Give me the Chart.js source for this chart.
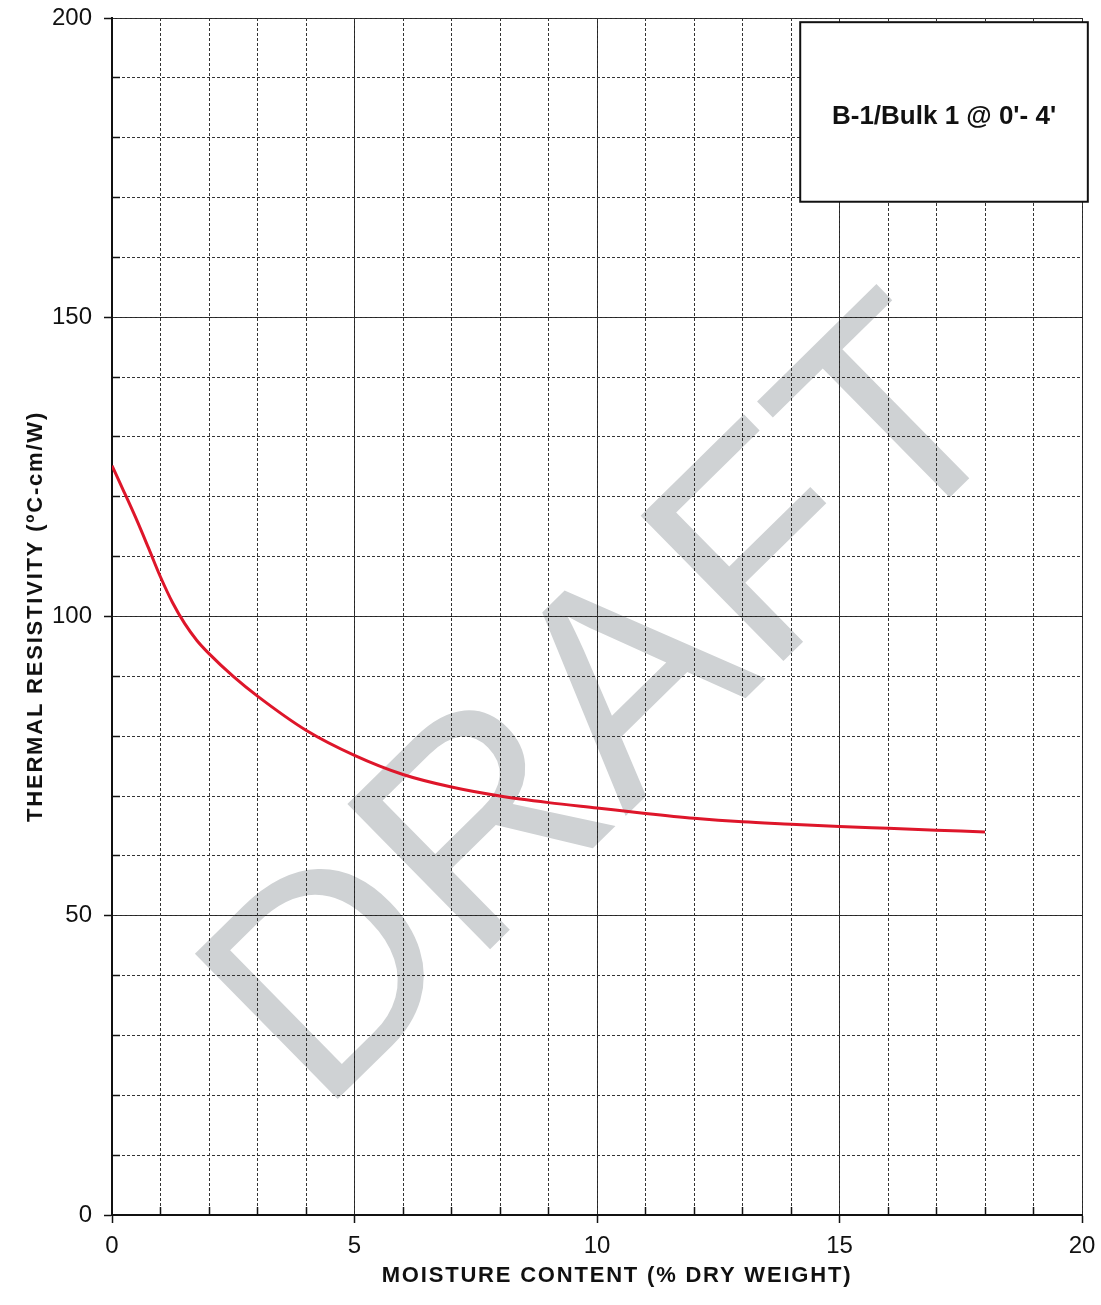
<!DOCTYPE html>
<html>
<head>
<meta charset="utf-8">
<script src="https://cdn.jsdelivr.net/npm/chart.js@4.4.1/dist/chart.umd.min.js"></script>
<style>
  html, body { margin: 0; padding: 0; background: #fff; }
  #wrap { width: 1101px; height: 1305px; }
</style>
</head>
<body>
<div id="wrap"><canvas id="rhoChart" width="1101" height="1305"></canvas></div>
<script>
// values
var moisture = [0, 0.25, 0.5, 0.75, 1, 1.25, 1.5, 1.75, 2, 2.5, 3, 4, 5, 6, 7, 8, 9, 10, 11, 12, 13, 14, 15, 16, 17, 18];
var resistivity = [125.2, 120.8, 116.3, 111.5, 106.6, 102.3, 98.8, 96.0, 93.8, 90.0, 86.7, 81.0, 76.8, 73.6, 71.5, 70.0, 68.9, 68.0, 67.1, 66.3, 65.7, 65.3, 64.9, 64.6, 64.3, 64.0];
var xTicks = [0, 5, 10, 15, 20];
var yTicks = [0, 50, 100, 150, 200];
var xTitle = 'MOISTURE CONTENT (% DRY WEIGHT)';
var yTitle = 'THERMAL RESISTIVITY (ºC-cm/W)';
var sampleLabel = "B-1/Bulk 1 @ 0'- 4'";
var stampText = 'DRAFT';

var FONT = '"Liberation Sans", Arial, sans-serif';

var points = moisture.map(function(m, i) { return {x: m, y: resistivity[i]}; });

// grey DRAFT stamp under the grid
var stamp = {
    id: 'stamp',
    beforeDraw: function(chart) {
        var c = chart.ctx;
        var sx = chart.scales.x, sy = chart.scales.y;
        c.save();
        c.fillStyle = '#fff';
        c.fillRect(0, 0, chart.width, chart.height);
        c.translate(sx.getPixelForValue(11.55), sy.getPixelForValue(74.3));
        c.rotate(-44.5 * Math.PI / 180);
        c.font = '296px ' + FONT;
        c.fillStyle = '#cfd2d4';
        c.textAlign = 'center';
        c.textBaseline = 'alphabetic';
        c.fillText(stampText, 0, 0);
        c.restore();
    }
};

// axis titles (letter-spaced) and the sample id box
var labels = {
    id: 'labels',
    afterDraw: function(chart) {
        var c = chart.ctx;
        var sx = chart.scales.x, sy = chart.scales.y;
        var area = chart.chartArea;
        c.save();
        c.fillStyle = '#111';
        c.textAlign = 'center';
        c.textBaseline = 'middle';
        c.font = 'bold 22px ' + FONT;
        c.letterSpacing = '1.8px';
        c.fillText(xTitle, (area.left + area.right) / 2 + 20, sx.bottom - 29);
        c.save();
        c.translate(sy.left + 36, (area.top + area.bottom) / 2);
        c.rotate(-Math.PI / 2);
        c.fillText(yTitle, 0, 0);
        c.restore();
        c.letterSpacing = '0px';

        var l = sx.getPixelForValue(14.19), r = sx.getPixelForValue(20.12);
        var t = sy.getPixelForValue(199.3), b = sy.getPixelForValue(169.3);
        c.fillStyle = '#fff';
        c.fillRect(l, t, r - l, b - t);
        c.strokeStyle = '#111';
        c.lineWidth = 2;
        c.strokeRect(l, t, r - l, b - t);
        c.fillStyle = '#111';
        c.font = 'bold 26px ' + FONT;
        c.fillText(sampleLabel, (l + r) / 2, (t + b) / 2 + 5);
        c.restore();
    }
};

// short inward ticks only where there is no labelled tick
function minorTick(ctx) {
    var step = ctx.scale.axis === 'x' ? 5 : 50;
    return ctx.tick && ctx.tick.value % step === 0 ? 'rgba(0,0,0,0)' : '#111';
}

var ctx = document.getElementById('rhoChart').getContext('2d');
var rhoChart = new Chart(ctx, {
    type: 'line',
    data: {
        datasets: [{
            data: points,
            borderColor: 'rgb(222, 22, 42)',
            borderWidth: 3,
            pointRadius: 0,
            cubicInterpolationMode: 'monotone',
            fill: false
        }]
    },
    options: {
        responsive: false,
        devicePixelRatio: 1,
        animation: false,
        layout: { padding: { left: 0, top: 18, right: 19, bottom: 0 } },
        plugins: {
            legend: { display: false },
            tooltip: { enabled: false }
        },
        scales: {
            x: {
                type: 'linear',
                position: 'bottom',
                min: 0,
                max: 20,
                weight: 0,
                afterBuildTicks: function(scale) {
                    scale.ticks = xTicks.map(function(v) { return {value: v}; });
                },
                afterFit: function(scale) {
                    scale.height = 90;
                    scale.paddingLeft = 0;
                    scale.paddingRight = 0;
                },
                grid: { color: '#222', lineWidth: 1, tickLength: 8, tickColor: '#111', tickWidth: 1.5 },
                border: { color: '#111', width: 2 },
                ticks: { color: '#111', padding: 9, font: { family: FONT, size: 24 } }
            },
            y: {
                type: 'linear',
                position: 'left',
                min: 0,
                max: 200,
                weight: 0,
                afterBuildTicks: function(scale) {
                    scale.ticks = yTicks.map(function(v) { return {value: v}; });
                },
                afterFit: function(scale) {
                    scale.width = 112;
                    scale.paddingTop = 0;
                    scale.paddingBottom = 0;
                },
                grid: { color: '#222', lineWidth: 1, tickLength: 8, tickColor: '#111', tickWidth: 1.5 },
                border: { color: '#111', width: 2 },
                ticks: { color: '#111', padding: 12, font: { family: FONT, size: 24 } }
            },
            xMinor: {
                type: 'linear',
                axis: 'x',
                position: 'bottom',
                min: 0,
                max: 20,
                weight: -1,
                afterFit: function(scale) { scale.height = 0; },
                ticks: { display: false, stepSize: 1 },
                grid: { color: '#333', lineWidth: 1, tickLength: -8, tickWidth: 1.5, tickColor: minorTick },
                border: { display: false, dash: [3, 2] }
            },
            yMinor: {
                type: 'linear',
                axis: 'y',
                position: 'left',
                min: 0,
                max: 200,
                weight: -1,
                afterFit: function(scale) { scale.width = 0; },
                ticks: { display: false, stepSize: 10 },
                grid: { color: '#333', lineWidth: 1, tickLength: -8, tickWidth: 1.5, tickColor: minorTick },
                border: { display: false, dash: [3, 2] }
            }
        }
    },
    plugins: [stamp, labels]
});
</script>
</body>
</html>
